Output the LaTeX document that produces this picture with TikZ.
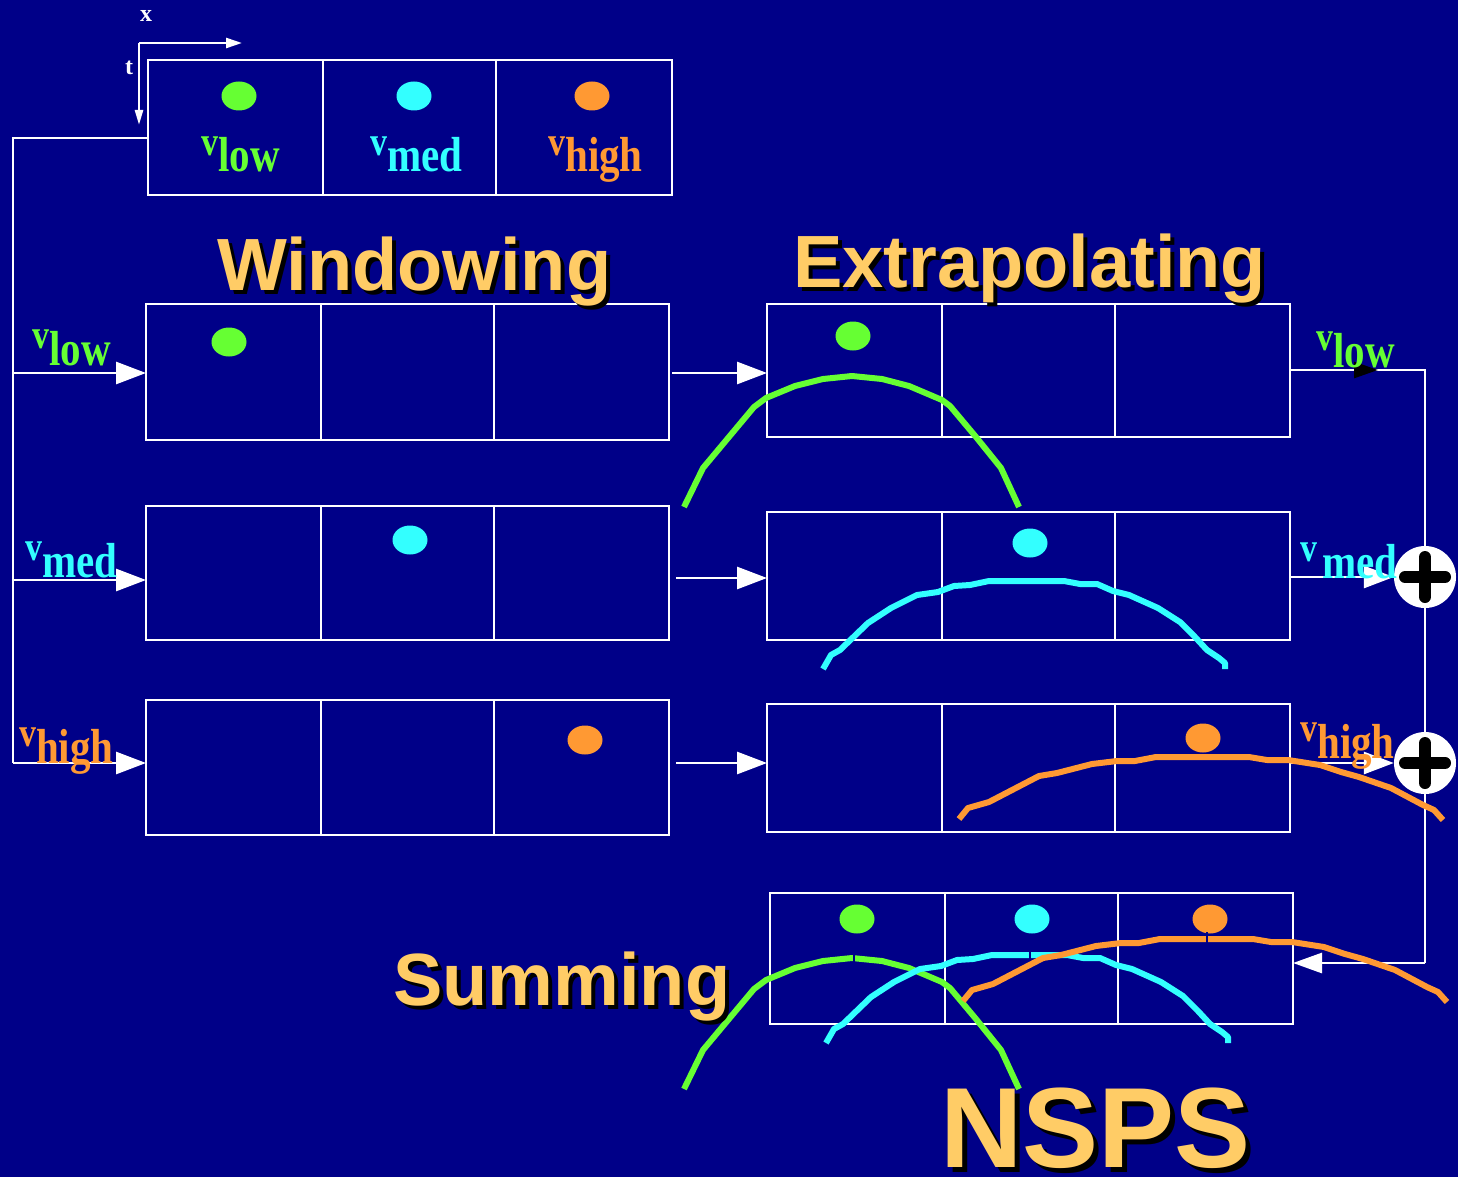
\documentclass[tikz,border=0pt]{standalone}
\usepackage{fontspec}
\setmainfont{Liberation Serif}
\setsansfont{Liberation Sans}
\usetikzlibrary{arrows.meta,calc}
\definecolor{bg}{RGB}{0,0,136}
\definecolor{vgreen}{RGB}{102,255,51}
\definecolor{vcyan}{RGB}{51,255,255}
\definecolor{vorange}{RGB}{255,153,51}
\definecolor{ttl}{RGB}{255,204,102}
% velocity label: small raised v followed by the subscript word
\newcommand\vsub[1]{\scalebox{1}[1.2]{\raisebox{14pt}{\fontsize{34}{34}\selectfont v}\fontsize{41}{41}\selectfont #1}}
% curve shapes (y grows downward)
\def\greenpath{(684,507) -- (703,468) -- (754,407) -- (766,398) -- (795,386) -- (823,379) -- (852,376) -- (882,379) -- (909,386) -- (942,400) -- (950,406) -- (976,437) -- (1001,468) -- (1019,507)}
\def\cyanpath{(823,669) -- (831,655) -- (840,650) -- (868,623) -- (891,608) -- (917,595) -- (938,592) -- (954,586) -- (970,585) -- (989,581) -- (1064,581) -- (1080,584) -- (1097,584) -- (1113,591) -- (1129,595) -- (1158,608) -- (1180,622) -- (1195,637) -- (1207,650) -- (1219,658) -- (1225,663) -- (1225,669)}
\def\orangepath{(959,819) -- (968,808) -- (989,802) -- (1039,776) -- (1057,773) -- (1092,764) -- (1117,761) -- (1135,761) -- (1156,757) -- (1249,757) -- (1267,760) -- (1288,760) -- (1320,765) -- (1341,772) -- (1359,777) -- (1391,788) -- (1423,805) -- (1434,810) -- (1443,820)}
\begin{document}
\begin{tikzpicture}[x=1pt,y=-1pt,
  line/.style={draw=white,line width=2.8pt},
  cell/.style={draw=white,line width=2.6pt,rectangle,inner sep=0pt,outer sep=0pt,minimum width=523pt},
  tip/.style={-{Triangle[length=30pt,width=22pt]}},
  curve/.style={line width=6pt,line join=round},
  notch/.style={draw=bg,line width=2.5pt},
  lab/.style={anchor=base west,inner sep=0pt,font=\bfseries},
  title/.style={anchor=base west,inner sep=0pt,text=ttl,font=\sffamily\bfseries\fontsize{74}{74}\selectfont},
  shade/.style={anchor=base west,inner sep=0pt,text=black,font=\sffamily\bfseries\fontsize{74}{74}\selectfont},
  plus/.style={circle,fill=white,minimum size=62pt,inner sep=0pt}]
\fill[bg] (0,0) rectangle (1458,1177);
\useasboundingbox (0,0) rectangle (1458,1177);

% axes
\draw[white,line width=2.5pt,-{Triangle[length=16pt,width=10pt]}] (139,43) -- (242,43);
\draw[white,line width=2.5pt,-{Triangle[length=15pt,width=8pt]}] (139,43) -- (139,125);
\node[lab,anchor=center,white,font=\bfseries\fontsize{24}{24}\selectfont] (xl) at (146,16) {x};
\node[lab,anchor=center,white,font=\bfseries\fontsize{24}{24}\selectfont] (tl) at (129,68) {t};

% boxes
\node[cell,minimum width=524pt,minimum height=135pt] (top) at (410,127.5) {};
\node[cell,minimum height=136pt] (w1) at (407.5,372) {};
\node[cell,minimum height=134pt] (w2) at (407.5,573) {};
\node[cell,minimum height=135pt] (w3) at (407.5,767.5) {};
\node[cell,minimum height=133pt] (e1) at (1028.5,370.5) {};
\node[cell,minimum height=128pt] (e2) at (1028.5,576) {};
\node[cell,minimum height=128pt] (e3) at (1028.5,768) {};
\node[cell,minimum height=131pt] (s) at (1031.5,958.5) {};
\foreach \b in {top,w1,w2,w3,e1,e2,e3,s}{
  \draw[white,line width=2.6pt] ($(\b.north west)+(175,0)$) -- ($(\b.south west)+(175,0)$);
  \draw[white,line width=2.6pt] ($(\b.north west)+(348,0)$) -- ($(\b.south west)+(348,0)$);
}

% dots
\foreach \px/\py/\c in {239/96/vgreen,414/96/vcyan,592/96/vorange,
                   229/342/vgreen,410/540/vcyan,585/740/vorange,
                   853/336/vgreen,1030/543/vcyan,1203/738/vorange,
                   857/919/vgreen,1032/919/vcyan,1210/919/vorange}{
  \fill[\c] (\px,\py) ellipse [x radius=17.5pt,y radius=14.5pt];
}

% feedback path on the left
\coordinate (T) at (148,138);
\coordinate (L0) at (13,138);
\coordinate (L1) at (13,373);
\coordinate (L2) at (13,580);
\coordinate (L3) at (13,763);
\draw[line] (T) -- (L0) -- (L3);
\draw[line,tip] (L1) -- (L1 -| w1.west);
\draw[line,tip] (L2) -- (L2 -| w2.west);
\draw[line,tip] (L3) -- (L3 -| w3.west);

% windowing to extrapolating
\coordinate (A1) at (672,373);
\coordinate (A2) at (676,578);
\coordinate (A3) at (676,763);
\draw[line,tip] (A1) -- (A1 -| e1.west);
\draw[line,tip] (A2) -- (A2 -| e2.west);
\draw[line,tip] (A3) -- (A3 -| e3.west);

% summation on the right
\coordinate (R1) at (1425,370);
\coordinate (R4) at (1425,963);
\coordinate (RK) at (1378,370);
\node[plus] (p1) at (1425,577) {};
\node[plus] (p2) at (1425,763) {};
\draw[line] (e1.east |- R1) -- (R1) -- (p1.north);
\draw[line] (p1.south) -- (p2.north);
\draw[line] (p2.south) -- (R4);
\draw[line,-{Triangle[length=24pt,width=16pt,color=black]}] (e1.east |- R1) -- (RK);
\draw[line,tip] (p1 -| e2.east) -- (p1.west);
\draw[line,tip] (p2 -| e3.east) -- (p2.west);
\draw[line,-{Triangle[length=29pt,width=20pt]}] (R4) -- (R4 -| s.east);
\foreach \q in {p1,p2}{
  \draw[black,line width=12pt,line cap=round] ($(\q.center)+(-20,0)$) -- ($(\q.center)+(20,0)$);
  \draw[black,line width=12pt,line cap=round] ($(\q.center)+(0,-20)$) -- ($(\q.center)+(0,20)$);
}

% extrapolated curves
\draw[vgreen,curve] \greenpath;
\draw[vcyan,curve] \cyanpath;
\draw[vorange,curve] \orangepath;

% summed curves
\begin{scope}[shift={(0,582)}]
  \draw[vgreen,curve] \greenpath;
\end{scope}
\begin{scope}[shift={(3,374)}]
  \draw[vcyan,curve] \cyanpath;
\end{scope}
\begin{scope}[shift={(4,182)}]
  \draw[vorange,curve] \orangepath;
\end{scope}
% small notches marking each peak below its dot
\draw[notch] (854,954) -- (854,966);
\draw[notch] (1030,947) -- (1030,960);
\draw[notch] (1207,932) -- (1207,944);

% velocity labels
\node[lab,vgreen] (tlow) at (201,172) {\vsub{low}};
\node[lab,vcyan] (tmed) at (370,172) {\vsub{med}};
\node[lab,vorange] (thigh) at (548,172) {\vsub{high}};
\node[lab,vgreen] (llow) at (32,365) {\vsub{low}};
\node[lab,vcyan] (lmed) at (25,577) {\vsub{med}};
\node[lab,vorange] (lhigh) at (19,763) {\vsub{high}};
\node[lab,vgreen] (rlow) at (1316,367) {\vsub{low}};
\node[lab,vcyan] (rmed) at (1300,578) {\vsub{\hspace{5pt}med}};
\node[lab,vorange] (rhigh) at (1300,758) {\vsub{high}};

% titles with drop shadow
\node[shade] (wins) at (221,294) {Windowing};
\node[title] (win) at (217,290) {Windowing};
\node[shade] (exts) at (797,291) {Extrapolating};
\node[title] (ext) at (793,287) {Extrapolating};
\node[shade] (sums) at (397,1009) {Summing};
\node[title] (sum) at (393,1005) {Summing};
\node[shade,font=\sffamily\bfseries\fontsize{114}{114}\selectfont] (nsps) at (945,1172) {NSPS};
\node[title,font=\sffamily\bfseries\fontsize{114}{114}\selectfont] (nsp) at (940,1167) {NSPS};
\end{tikzpicture}
\end{document}
